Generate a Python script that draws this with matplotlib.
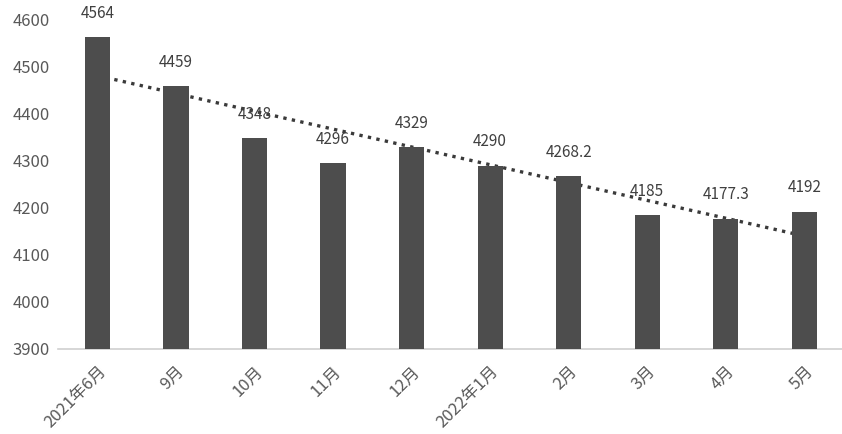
import numpy as np
import matplotlib
matplotlib.use('Agg')
import matplotlib.pyplot as plt

plt.rcParams['font.family'] = ['Noto Sans CJK SC', 'DejaVu Sans']

# Data
months = ['2021年6月', '9月', '10月', '11月', '12月', '2022年1月', '2月', '3月', '4月', '5月']
values = [4564, 4459, 4348, 4296, 4329, 4290, 4268.2, 4185, 4177.3, 4192]
value_labels = ['4564', '4459', '4348', '4296', '4329', '4290', '4268.2', '4185', '4177.3', '4192']

x = np.arange(len(months))

fig = plt.figure(figsize=(8.42, 4.34), dpi=100)
ax = fig.add_axes([0.069, 0.196, 0.933, 0.758])

bar_color = '#4d4d4d'
text_color = '#404040'

ax.bar(x, np.array(values) - 3900, bottom=3900, width=0.32, color=bar_color, zorder=3)

# Linear trendline (drawn behind the bars, like the original)
k, b = np.polyfit(x, values, 1)
ax.plot(x, k * x + b, color='#3a3a3a', linestyle=(0, (1, 1.6)), linewidth=2.4, zorder=2)

# Value labels
for xi, v, lab in zip(x, values, value_labels):
    ax.annotate(lab, (xi, v), xytext=(0, 11), textcoords='offset points',
                ha='center', va='bottom', fontsize=11, color=text_color)

ax.set_xlim(-0.5, 9.5)
ax.set_ylim(3900, 4600)
ax.set_yticks(range(3900, 4601, 100))
ax.set_xticks(x)
ax.set_xticklabels(months, rotation=45, ha='right', rotation_mode='anchor', va='top')

ax.tick_params(axis='both', length=0, labelsize=12, colors='#595959')
ax.tick_params(axis='x', pad=10)
ax.tick_params(axis='y', pad=6)

for side in ['left', 'right', 'top']:
    ax.spines[side].set_visible(False)
ax.spines['bottom'].set_color('#d0d0d0')
ax.spines['bottom'].set_linewidth(1.2)

plt.savefig('out.png', dpi=100)
